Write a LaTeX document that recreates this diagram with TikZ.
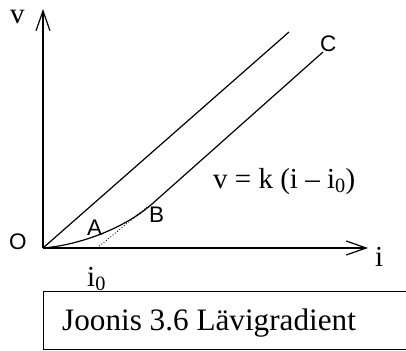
\documentclass[tikz,border=0pt]{standalone}
\usepackage{fontspec}
\setmainfont{Liberation Serif}
\newfontfamily\helv{Liberation Sans}
\usetikzlibrary{arrows.meta}
\tikzset{
  serif/.style={font=\fontsize{29}{30}\selectfont, inner sep=0pt, anchor=base west},
  bigserif/.style={font=\fontsize{31.2}{32}\selectfont, inner sep=0pt, anchor=base west},
  sans/.style={font=\helv\fontsize{22.5}{24}\selectfont, inner sep=0pt, anchor=base west},
  axis/.style={line width=1.3pt, -{Straight Barb[length=20pt,width=14pt,line width=1.2pt]}},
  curve/.style={line width=1.2pt},
}
\begin{document}
\begin{tikzpicture}[x=1pt,y=-1pt]
\useasboundingbox (0,0) rectangle (406,350);
\coordinate (o) at (43,248);
\coordinate (ytip) at (43,9);
\coordinate (xtip) at (368,248);
\coordinate (b) at (152,204);
\coordinate (c) at (323,52);
\coordinate (u) at (289,32);
\coordinate (i0) at (97,248);
\coordinate (dend) at (147,207);
\draw[axis] (o) -- (ytip);
\draw[axis] (o) -- (xtip);
\draw[curve] (o) -- (u);
\draw[curve] (o) .. controls (80,245) and (125,228) .. (b) -- (c);
\draw[line width=0.9pt, dotted] (i0) -- (dend);
\node[serif] (vlab) at (10,24) {v};
\node[sans] (olab) at (9,249) {O};
\node[sans] (alab) at (87,235) {A};
\node[sans] (blab) at (149,222) {B};
\node[sans] (clab) at (320,52) {C};
\node[serif] (ilab) at (375,266) {i};
\node[serif] (i0lab) at (87,286) {i\textsubscript{0}};
\node[serif] (eq) at (213,188) {v = k (i – i\textsubscript{0})};
\draw[line width=1pt] (43,291) rectangle (420,349);
\node[bigserif] (cap) at (62,330) {Joonis 3.6 Lävigradient};
\end{tikzpicture}
\end{document}
